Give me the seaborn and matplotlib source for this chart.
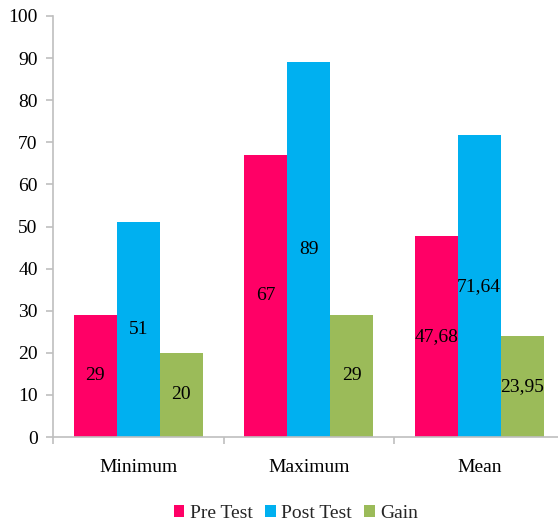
import matplotlib
matplotlib.use("Agg")
import matplotlib.pyplot as plt
import seaborn as sns
import pandas as pd
from matplotlib.ticker import FixedLocator

categories = ["Minimum", "Maximum", "Mean"]
series = ["Pre Test", "Post Test", "Gain"]
pre_test = [29, 67, 47.68]
post_test = [51, 89, 71.64]
gain = [20, 29, 23.95]
colors = ["#FF0066", "#00B0F0", "#9BBB59"]

rows = []
for name, vals in zip(series, [pre_test, post_test, gain]):
    for cat, v in zip(categories, vals):
        rows.append({"Category": cat, "Series": name, "Value": v})
df = pd.DataFrame(rows)

sns.set_theme(style="white")
plt.rcParams["font.family"] = ["Liberation Serif", "DejaVu Serif"]

fig = plt.figure(figsize=(5.58, 5.21), dpi=100)
ax = fig.add_axes([53 / 558, 84 / 521, 511.5 / 558, 421 / 521])

sns.barplot(data=df, x="Category", y="Value", hue="Series", order=categories,
            hue_order=series, palette=colors, width=0.756, gap=0,
            saturation=1, ax=ax, errorbar=None, edgecolor="none", linewidth=0)

def fmt(v):
    s = f"{v:.2f}".rstrip("0").rstrip(".")
    return s.replace(".", ",")

for cont, vals in zip(ax.containers, [pre_test, post_test, gain]):
    ax.bar_label(cont, labels=[fmt(v) for v in vals], label_type="center",
                 fontsize=14, color="black")

ax.set_xlim(-0.5, 2.5)
ax.set_ylim(0, 100)
ax.set_yticks(range(0, 101, 10))
ax.set_xlabel("")
ax.set_ylabel("")

for side in ["top", "right"]:
    ax.spines[side].set_visible(False)
for side in ["left", "bottom"]:
    ax.spines[side].set_color("#bfbfbf")
    ax.spines[side].set_linewidth(1.2)

ax.tick_params(axis="y", which="major", direction="out", length=5, width=1.2,
               color="#bfbfbf", labelsize=14, pad=6, left=True,
               labelcolor="black")
ax.tick_params(axis="x", which="major", length=0, labelsize=14, pad=16,
               labelcolor="black")
ax.xaxis.set_minor_locator(FixedLocator([-0.5, 0.5, 1.5, 2.5]))
ax.tick_params(axis="x", which="minor", direction="out", length=5, width=1.2,
               color="#bfbfbf", bottom=True)

handles, labels = ax.get_legend_handles_labels()
ax.legend(handles, labels, loc="lower center", bbox_to_anchor=(296 / 558, -0.005),
          bbox_transform=fig.transFigure, ncol=3, frameon=False, fontsize=14,
          handlelength=0.55, handleheight=0.55, handletextpad=0.3,
          columnspacing=0.6, borderaxespad=0.0, borderpad=0.1)

fig.savefig("out.png", dpi=100)
